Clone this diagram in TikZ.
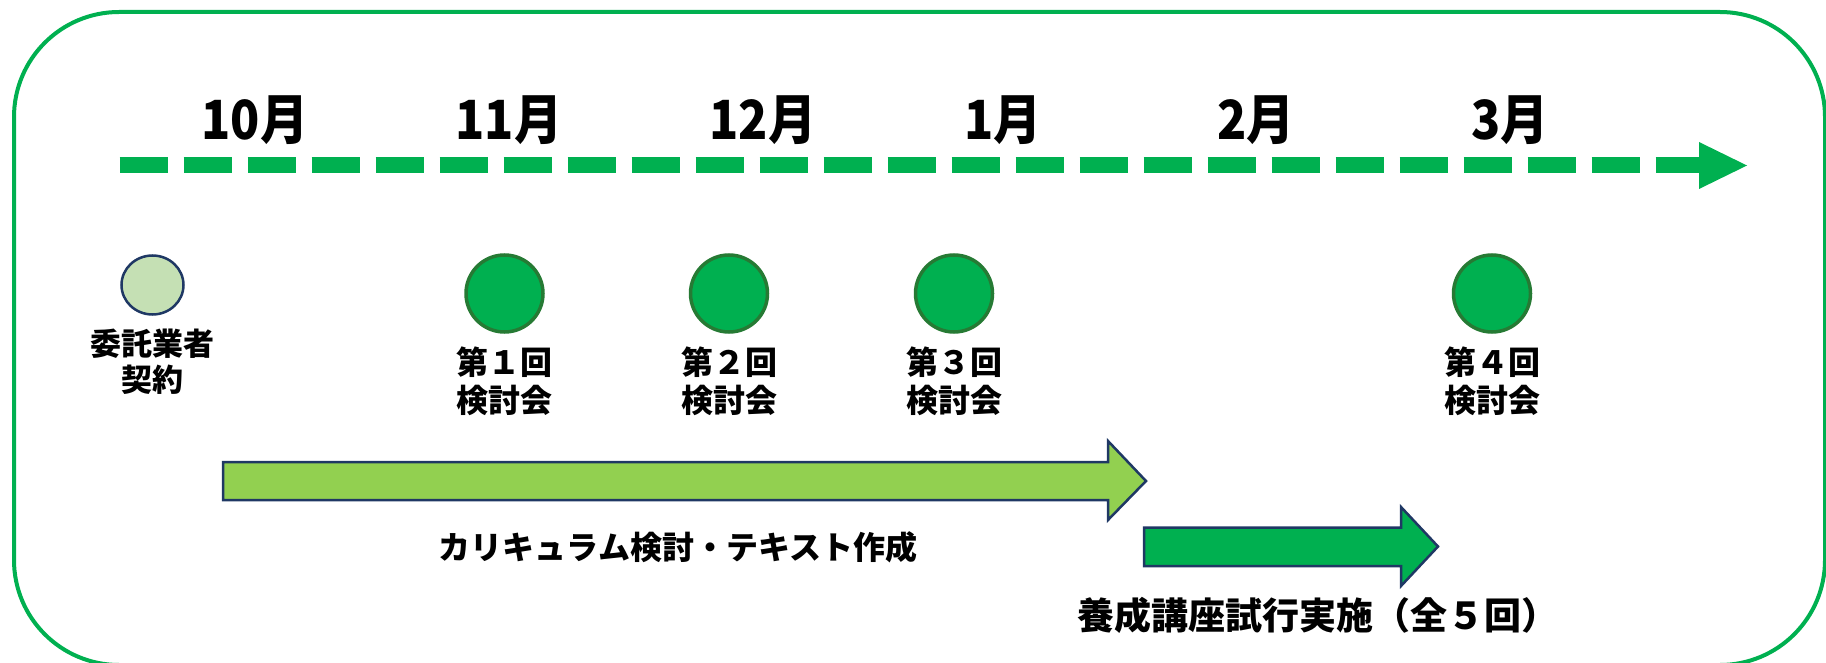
\documentclass[tikz,border=0pt]{standalone}
\usepackage{fontspec}
\usetikzlibrary{shapes.geometric}
\newfontfamily\jp{Noto Sans CJK JP}
\newfontfamily\jpmonth{Noto Sans CJK JP}[FakeStretch=0.89]
\definecolor{brgreen}{HTML}{00B050}
\definecolor{ltgreen}{HTML}{92D050}
\definecolor{palegreen}{HTML}{C5E0B4}
\definecolor{navy}{HTML}{1F3864}
\definecolor{rimgreen}{RGB}{38,122,52}
\tikzset{
  frame/.style={draw=brgreen, line width=4, rounded corners=105},
  timeline/.style={draw=brgreen, line width=16, dash pattern=on 48 off 16},
  month/.style={font=\jpmonth\bfseries\fontsize{54}{58}\selectfont, inner sep=0, anchor=center},
  meetlabel/.style={font=\jp\bfseries\fontsize{32}{38}\selectfont, inner sep=0, align=center, anchor=center},
  meet/.style={circle, draw=rimgreen, fill=brgreen, line width=3.5, minimum size=77, inner sep=0},
  contract/.style={ellipse, draw=navy, fill=palegreen, line width=2.5, minimum width=62, minimum height=59, inner sep=0},
  blockarrow/.style={draw=navy, line width=2.5, line join=miter},
  barlabel/.style={font=\jp\bfseries\fontsize{32}{38}\selectfont, inner sep=0, anchor=center},
}
\begin{document}
\begin{tikzpicture}[x=1pt, y=-1pt]
\useasboundingbox (0,0) rectangle (1826,663);
% outer frame
\draw[frame] (14,12) rectangle (1825,665);

% timeline
\coordinate (tlstart) at (119.6,165.5);
\coordinate (tlend) at (1699,165.5);
\coordinate (tltip) at (1747,165.5);
\draw[timeline] (tlstart) -- (tlend);
\fill[brgreen] (1699,142) -- (tltip) -- (1699,189) -- cycle;

% months
\node[month] (m10) at (255,120) {10月};
\node[month] (m11) at (509,120) {11月};
\node[month] (m12) at (763,120) {12月};
\node[month] (m1)  at (1003,120) {1月};
\node[month] (m2)  at (1256,120) {2月};
\node[month] (m3)  at (1510,120) {3月};

% milestones
\node[contract] (c0) at (152.5,285) {};
\node[meetlabel, font=\jp\bfseries\fontsize{31}{36}\selectfont] (l0) at (152,362) {委託業者\\契約};

\node[meet] (c1) at (504.5,293.5) {};
\node[meet] (c2) at (729,293.5) {};
\node[meet] (c3) at (954,293.5) {};
\node[meet] (c4) at (1492,293.5) {};
\node[meetlabel] (l1) at (504,381) {第１回\\検討会};
\node[meetlabel] (l2) at (729,381) {第２回\\検討会};
\node[meetlabel] (l3) at (954,381) {第３回\\検討会};
\node[meetlabel] (l4) at (1492,381) {第４回\\検討会};

% block arrows
\draw[blockarrow, fill=ltgreen] (223,462) -- (1108,462) -- (1108,441) -- (1146,481) -- (1108,520) -- (1108,500) -- (223,500) -- cycle;
\draw[blockarrow, fill=brgreen] (1144,527.5) -- (1401,527.5) -- (1401,507) -- (1438,546.5) -- (1401,586) -- (1401,566) -- (1144,566) -- cycle;

\node[barlabel] (t1) at (678,547) {カリキュラム検討・テキスト作成};
\node[barlabel, font=\jp\bfseries\fontsize{37}{42}\selectfont] (t2) at (1318,615) {養成講座試行実施（全５回）};
\end{tikzpicture}
\end{document}
